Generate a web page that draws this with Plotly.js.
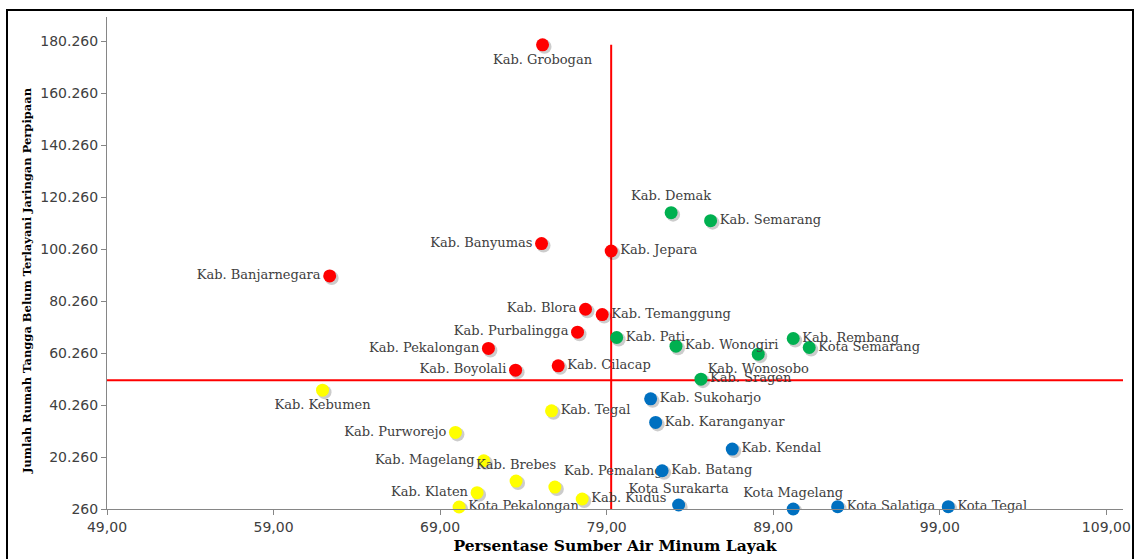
<!DOCTYPE html>
<html>
<head>
<meta charset="utf-8">
<script src="https://cdn.plot.ly/plotly-3.0.1.min.js"></script>
<style>html,body{margin:0;padding:0;background:#fff;}#chart{width:1139px;height:559px;}</style>
</head>
<body>
<div id="chart"></div>
<script>
// ---- Data ----
const redNames = ["Kab. Grobogan","Kab. Banyumas","Kab. Jepara","Kab. Banjarnegara","Kab. Blora","Kab. Temanggung","Kab. Purbalingga","Kab. Pekalongan","Kab. Boyolali","Kab. Cilacap"];
const redX = [75.15, 75.09, 79.27, 62.37, 77.73, 78.73, 77.25, 71.90, 73.53, 76.09];
const redY = [178990, 102450, 99610, 89990, 77180, 75140, 68340, 62070, 53720, 55380];

const greenNames = ["Kab. Demak","Kab. Semarang","Kab. Pati","Kab. Wonogiri","Kab. Wonosobo","Kab. Sragen","Kab. Rembang","Kota Semarang"];
const greenX = [82.87, 85.24, 79.60, 83.16, 88.10, 84.66, 90.20, 91.16];
const greenY = [114360, 111290, 66300, 62950, 59880, 50260, 65910, 62450];

const yellowNames = ["Kab. Kebumen","Kab. Purworejo","Kab. Tegal","Kab. Magelang","Kab. Brebes","Kab. Pemalang","Kab. Klaten","Kab. Kudus","Kota Pekalongan"];
const yellowX = [61.94, 69.92, 75.69, 71.62, 73.56, 75.89, 71.22, 77.53, 70.14];
const yellowY = [46030, 29760, 38070, 18840, 11030, 8720, 6530, 4110, 1030];

const blueNames = ["Kab. Sukoharjo","Kab. Karanganyar","Kab. Kendal","Kab. Batang","Kota Surakarta","Kota Magelang","Kota Salatiga","Kota Tegal"];
const blueX = [81.64, 81.94, 86.54, 82.33, 83.32, 90.20, 92.87, 99.51];
const blueY = [42680, 33610, 23340, 14990, 1800, 260, 1150, 1150];

// Reference (quadrant) lines
const refX = 79.27;
const refY = 49870;

const xTitle = "Persentase Sumber Air Minum Layak";
const yTitle = "Jumlah Rumah Tangga Belum Terlayani Jaringan Perpipaan";

// ---- Styling ----
const labelPos = {
  "Kab. Grobogan":"bottom center","Kab. Banyumas":"middle left","Kab. Jepara":"middle right",
  "Kab. Banjarnegara":"middle left","Kab. Blora":"middle left","Kab. Temanggung":"middle right",
  "Kab. Purbalingga":"middle left","Kab. Pekalongan":"middle left","Kab. Boyolali":"middle left",
  "Kab. Cilacap":"middle right","Kab. Demak":"top center","Kab. Semarang":"middle right",
  "Kab. Pati":"middle right","Kab. Wonogiri":"middle right","Kab. Wonosobo":"bottom center",
  "Kab. Sragen":"middle right","Kab. Rembang":"middle right","Kota Semarang":"middle right",
  "Kab. Kebumen":"bottom center","Kab. Purworejo":"middle left","Kab. Tegal":"middle right",
  "Kab. Magelang":"middle left","Kab. Brebes":"top center","Kab. Pemalang":"top right",
  "Kab. Klaten":"middle left","Kab. Kudus":"middle right","Kota Pekalongan":"middle right",
  "Kab. Sukoharjo":"middle right","Kab. Karanganyar":"middle right","Kab. Kendal":"middle right",
  "Kab. Batang":"middle right","Kota Surakarta":"top center","Kota Magelang":"top center",
  "Kota Salatiga":"middle right","Kota Tegal":"middle right"
};

const xRange = [49, 110];
const yRange = [260, 189700];
const W = 1139, H = 559;
const margin = {l:107, r:16, t:17, b:50};
const plotW = W - margin.l - margin.r, plotH = H - margin.t - margin.b;
const pxX = (xRange[1]-xRange[0]) / plotW;
const pxY = (yRange[1]-yRange[0]) / plotH;

const groups = [
  {n: redNames, x: redX, y: redY, c: "#FF0000"},
  {n: greenNames, x: greenX, y: greenY, c: "#00B050"},
  {n: yellowNames, x: yellowX, y: yellowY, c: "#FFFF00"},
  {n: blueNames, x: blueX, y: blueY, c: "#0070C0"}
];

const allY = [].concat(redY, greenY, yellowY, blueY);
const traces = [];

// reference lines (main axes, drawn first)
traces.push({type:"scatter", mode:"lines", x:[refX, refX], y:[yRange[0], Math.max(...allY)],
  line:{color:"#FF0000", width:2}, hoverinfo:"skip", showlegend:false, cliponaxis:false});
traces.push({type:"scatter", mode:"lines", x:[xRange[0], xRange[1]], y:[refY, refY],
  line:{color:"#FF0000", width:2}, hoverinfo:"skip", showlegend:false, cliponaxis:false});

// shadows on overlay axes 2 (ranges shifted so the same data sits 2px right / 2px down)
groups.forEach(g => {
  traces.push({
    type: "scatter", mode: "markers", x: g.x, y: g.y, xaxis: "x2", yaxis: "y2",
    marker: {size: 14, color: "rgba(0,0,0,0.2)", line: {width: 0}},
    hoverinfo: "skip", showlegend: false
  });
});

// markers + labels on overlay axes 3 (drawn on top)
groups.forEach(g => {
  traces.push({
    type: "scatter", mode: "markers+text", x: g.x, y: g.y, text: g.n, xaxis: "x3", yaxis: "y3",
    textposition: g.n.map(n => labelPos[n]),
    textfont: {family: "DejaVu Serif", size: 13, color: "#404040"},
    marker: {size: 13, color: g.c, opacity: 1, line: {width: 0}},
    cliponaxis: false, hoverinfo: "skip", showlegend: false
  });
});

const axisCommon = {
  showgrid: false, zeroline: false, showline: true, linecolor: "#868686", linewidth: 1,
  ticks: "outside", ticklen: 5, tickcolor: "#868686",
  tickfont: {family: "DejaVu Sans", size: 14, color: "#404040"}
};

const layout = {
  width: W, height: H, margin: margin,
  paper_bgcolor: "#ffffff", plot_bgcolor: "#ffffff",
  separators: ",.",
  showlegend: false,
  xaxis: Object.assign({}, axisCommon, {
    range: xRange, tick0: 49, dtick: 10, tickformat: ".2f",
    title: {text: xTitle, standoff: 6, font: {family: "DejaVu Serif", size: 15.5, color: "#000", weight: "bold"}}
  }),
  yaxis: Object.assign({}, axisCommon, {
    range: yRange, tick0: 260, dtick: 20000, tickformat: ",d"
  }),
  xaxis2: {overlaying: "x", range: [xRange[0]-2*pxX, xRange[1]-2*pxX], visible: false, fixedrange: true},
  yaxis2: {overlaying: "y", range: [yRange[0]+2*pxY, yRange[1]+2*pxY], visible: false, fixedrange: true},
  xaxis3: {overlaying: "x", range: xRange, visible: false, fixedrange: true},
  yaxis3: {overlaying: "y", range: yRange, visible: false, fixedrange: true},
  annotations: [{
    text: yTitle, xref: "paper", yref: "paper",
    x: (27 - margin.l)/plotW, y: (H - margin.b - 281)/plotH,
    xanchor: "center", yanchor: "middle", textangle: -90, showarrow: false,
    font: {family: "DejaVu Serif", size: 11.5, color: "#000", weight: "bold"}
  }],
  shapes: [{
    type: "rect", xref: "paper", yref: "paper",
    x0: (7 - margin.l)/plotW, x1: (1133 - margin.l)/plotW,
    y0: -0.3, y1: (H - margin.b - 10)/plotH,
    line: {color: "#000", width: 2}, fillcolor: "rgba(0,0,0,0)", layer: "above"
  }]
};

Plotly.newPlot("chart", traces, layout, {staticPlot: true, displayModeBar: false});
</script>
</body>
</html>
